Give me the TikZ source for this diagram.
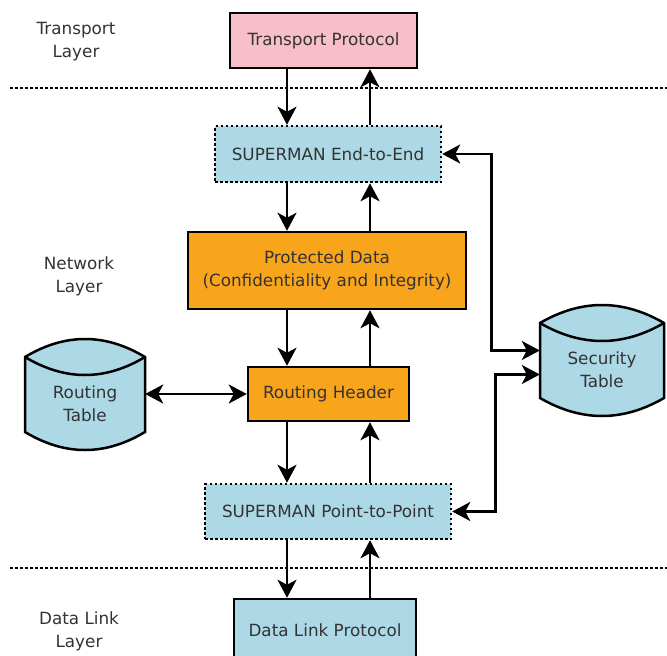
\documentclass[tikz,border=0pt]{standalone}
\usepackage{fontspec}
\setmainfont{DejaVu Sans}
\usetikzlibrary{arrows.meta}
\definecolor{tpink}{RGB}{248,190,202}
\definecolor{lblue}{RGB}{173,216,230}
\definecolor{dorange}{RGB}{249,165,28}
\definecolor{txtgray}{RGB}{51,51,51}

% drum shaped table: name, left x, right x, top rim y, bottom rim y, label
\newcommand{\dbtable}[6]{%
  \pgfmathsetmacro{\cx}{(#2+#3)/2}
  \pgfmathsetmacro{\lx}{(#2+2*\cx)/3}
  \pgfmathsetmacro{\rx}{(#3+2*\cx)/3}
  \filldraw[cyl] (#2,#4) .. controls (\lx,{#4-24}) and (\rx,{#4-24}) .. (#3,#4) -- (#3,#5)
    .. controls (\rx,{#5+24}) and (\lx,{#5+24}) .. (#2,#5) -- cycle;
  \draw[cyl,fill=none] (#2,#4) .. controls (\lx,{#4+24}) and (\rx,{#4+24}) .. (#3,#4);
  \node[lbl,minimum width={#3-#2}] (#1) at (\cx,{(#4+#5)/2+9}) {#6};
}

\begin{document}
\begin{tikzpicture}[x=1pt,y=-1pt,
    font=\fontsize{16.8}{23}\selectfont, text=txtgray,
    box/.style={draw, line width=2.5pt, align=center, inner sep=0pt},
    dotbox/.style={box, dash pattern=on 2.5pt off 2.5pt},
    lbl/.style={align=center, inner sep=0pt},
    cyl/.style={draw, line width=2.5pt, fill=lblue},
    arr/.style={line width=2.5pt, -{Stealth[length=18pt,width=19pt,inset=5pt]}},
    dbl/.style={line width=2.5pt, {Stealth[length=18pt,width=19pt,inset=5pt]}-{Stealth[length=18pt,width=19pt,inset=5pt]}},
    sep/.style={line width=2.5pt, dash pattern=on 2.5pt off 2.5pt}]
  \useasboundingbox (0,0) rectangle (667,656);

  % layer names and borders
  \node[lbl] (ltrans) at (76,42) {Transport\\Layer};
  \node[lbl] (lnet) at (79,276) {Network\\Layer};
  \node[lbl] (llink) at (79,631) {Data Link\\Layer};
  \draw[sep] (10,88) -- (667,88);
  \draw[sep] (10,568) -- (667,568);

  % protocol stack
  \node[box, fill=tpink, minimum width=187, minimum height=55] (tp) at (323.5,40.5) {Transport Protocol};
  \node[dotbox, fill=lblue, minimum width=226, minimum height=56] (e2e) at (328,154) {SUPERMAN End-to-End};
  \node[box, fill=dorange, minimum width=278, minimum height=77] (pd) at (327,270.5) {Protected Data\\(Confidentiality and Integrity)};
  \node[box, fill=dorange, minimum width=161, minimum height=54] (rh) at (328.5,394) {Routing Header};
  \node[dotbox, fill=lblue, minimum width=246, minimum height=55] (p2p) at (328,511.5) {SUPERMAN Point-to-Point};
  \node[box, fill=lblue, minimum width=182, minimum height=62] (dl) at (325,630) {Data Link Protocol};

  % tables
  \dbtable{rtab}{25}{145}{357}{432}{Routing\\Table}
  \dbtable{stab}{540}{664}{323}{398}{Security\\Table}

  % down and up paths through the stack
  \coordinate (dn) at (287,0);
  \coordinate (up) at (370,0);
  \foreach \a/\b in {tp/e2e,e2e/pd,pd/rh,rh/p2p,p2p/dl}{
    \draw[arr] (\a.south -| dn) -- (\b.north -| dn);
    \draw[arr] (\b.north -| up) -- (\a.south -| up);
  }

  % table lookups
  \draw[dbl] (rh.west) -- (rtab.east |- rh.west);
  \draw[dbl] (e2e.east) -- ++(49,0) |- ([yshift=19pt]stab.west);
  \draw[dbl] (p2p.east) -- ++(43,0) |- ([yshift=-5pt]stab.west);
\end{tikzpicture}
\end{document}
